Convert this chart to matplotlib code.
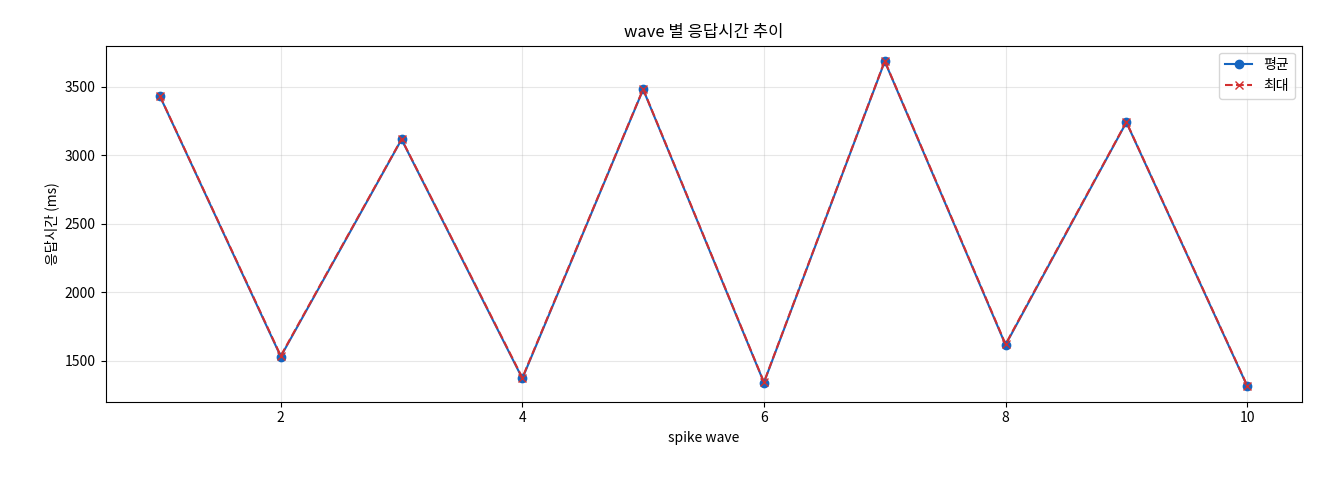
import matplotlib
matplotlib.use("Agg")
import matplotlib.pyplot as plt

plt.rcParams['font.family'] = ['Noto Sans CJK KR', 'DejaVu Sans']

waves = [1, 2, 3, 4, 5, 6, 7, 8, 9, 10]
avg_ms = [3430, 1530, 3115, 1370, 3480, 1340, 3685, 1615, 3240, 1315]
max_ms = [3432, 1535, 3118, 1375, 3483, 1343, 3688, 1620, 3243, 1318]

fig = plt.figure(figsize=(13.2, 4.8), dpi=100)
ax = fig.add_axes([0.08, 0.163, 0.906, 0.742])
ax.plot(waves, avg_ms, marker='o', color='#1565c0', label='평균')
ax.plot(waves, max_ms, marker='x', linestyle='--', color='#d32f2f', label='최대')
ax.set_title('wave 별 응답시간 추이')
ax.set_xlabel('spike wave')
ax.set_ylabel('응답시간 (ms)')
ax.set_ylim(1200, 3800)
ax.grid(True, alpha=0.3)
ax.legend(loc='upper right')
fig.savefig('out.png', dpi=100)
